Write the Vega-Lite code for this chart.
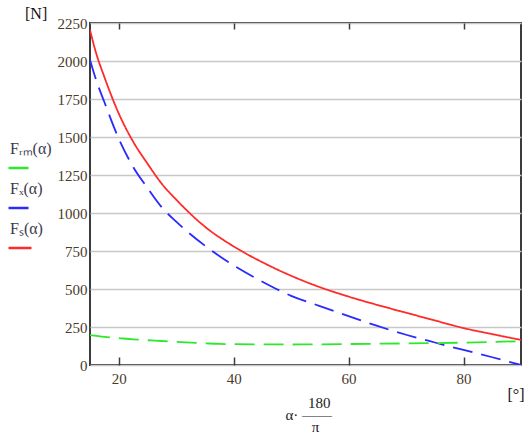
{
  "$schema": "https://vega.github.io/schema/vega-lite/v6.json",
  "width": 431,
  "height": 342,
  "autosize": "none",
  "padding": {"left": 90, "top": 23, "right": 3, "bottom": 71},
  "background": "white",
  "config": {
    "view": {"stroke": "#3c3c3c", "strokeWidth": 2},
    "font": "Liberation Serif",
    "style": {"guide-label": {"lineHeight": 38}}
  },
  "title": {
    "text": "[N]",
    "anchor": "start",
    "frame": "group",
    "dx": -65,
    "dy": 19,
    "offset": 0,
    "baseline": "alphabetic",
    "fontSize": 16,
    "fontWeight": "normal",
    "font": "Liberation Serif",
    "color": "#111"
  },
  "data": {
    "values": [
      {"a": 15, "s": "Fs", "F": 2205}, {"a": 16, "s": "Fs", "F": 2060}, {"a": 17.5, "s": "Fs", "F": 1895}, {"a": 20, "s": "Fs", "F": 1655},
      {"a": 22.5, "s": "Fs", "F": 1470}, {"a": 25, "s": "Fs", "F": 1325}, {"a": 27.5, "s": "Fs", "F": 1192}, {"a": 30, "s": "Fs", "F": 1088},
      {"a": 35, "s": "Fs", "F": 910}, {"a": 40, "s": "Fs", "F": 780}, {"a": 45, "s": "Fs", "F": 676}, {"a": 50, "s": "Fs", "F": 587},
      {"a": 55, "s": "Fs", "F": 512}, {"a": 60, "s": "Fs", "F": 450}, {"a": 65, "s": "Fs", "F": 395}, {"a": 70, "s": "Fs", "F": 344},
      {"a": 75, "s": "Fs", "F": 293}, {"a": 80, "s": "Fs", "F": 243}, {"a": 85, "s": "Fs", "F": 203}, {"a": 90, "s": "Fs", "F": 165},
      {"a": 15, "s": "Fx", "F": 2008}, {"a": 16, "s": "Fx", "F": 1883}, {"a": 17.5, "s": "Fx", "F": 1730}, {"a": 20, "s": "Fx", "F": 1490},
      {"a": 22.5, "s": "Fx", "F": 1304}, {"a": 25, "s": "Fx", "F": 1165}, {"a": 27.5, "s": "Fx", "F": 1037}, {"a": 30, "s": "Fx", "F": 943},
      {"a": 35, "s": "Fx", "F": 785}, {"a": 40, "s": "Fx", "F": 655}, {"a": 45, "s": "Fx", "F": 548}, {"a": 50, "s": "Fx", "F": 455},
      {"a": 55, "s": "Fx", "F": 388}, {"a": 60, "s": "Fx", "F": 322}, {"a": 65, "s": "Fx", "F": 257}, {"a": 70, "s": "Fx", "F": 199},
      {"a": 75, "s": "Fx", "F": 148}, {"a": 80, "s": "Fx", "F": 99}, {"a": 85, "s": "Fx", "F": 51}, {"a": 90, "s": "Fx", "F": 0},
      {"a": 15, "s": "Frm", "F": 197}, {"a": 17.5, "s": "Frm", "F": 185}, {"a": 20, "s": "Frm", "F": 177}, {"a": 22.5, "s": "Frm", "F": 169},
      {"a": 25, "s": "Frm", "F": 163}, {"a": 27.5, "s": "Frm", "F": 158}, {"a": 30, "s": "Frm", "F": 152}, {"a": 32.5, "s": "Frm", "F": 147},
      {"a": 35, "s": "Frm", "F": 143}, {"a": 37.5, "s": "Frm", "F": 139}, {"a": 40, "s": "Frm", "F": 137}, {"a": 45, "s": "Frm", "F": 136},
      {"a": 50, "s": "Frm", "F": 135}, {"a": 60, "s": "Frm", "F": 138}, {"a": 70, "s": "Frm", "F": 142}, {"a": 80, "s": "Frm", "F": 147},
      {"a": 90, "s": "Frm", "F": 157}
    ]
  },
  "resolve": {"axis": {"x": "independent", "y": "independent"}},
  "layer": [
    {
      "mark": {"type": "line", "clip": true, "interpolate": "monotone"},
      "encoding": {
        "x": {
          "field": "a", "type": "quantitative",
          "scale": {"domain": [15, 90], "nice": false, "zero": false},
          "axis": {
            "orient": "bottom",
            "values": [20, 40, 60, 80],
            "grid": false,
            "domain": false,
            "offset": -8,
            "tickSize": 8,
            "tickColor": "#3c3c3c",
            "tickWidth": 1.5,
            "labelPadding": 6,
            "labelFontSize": 15,
            "labelColor": "#4a3a2a",
            "labelFont": "Liberation Serif",
            "labelOverlap": false,
            "title": ["\u200b\u00a0\u00a0\u00a0\u00a0\u00a0\u00a0180", "α·\u00a0——", "\u200b\u00a0\u00a0\u00a0\u00a0\u00a0\u00a0\u00a0π"],
            "titleAlign": "left",
            "titleAnchor": "start",
            "titleX": 195,
            "titleY": 50,
            "titleBaseline": "alphabetic",
            "titleLineHeight": 12,
            "titleFontSize": 15,
            "titleFontWeight": "normal",
            "titleFont": "Liberation Serif",
            "titleColor": "#222"
          }
        },
        "y": {
          "field": "F", "type": "quantitative",
          "scale": {"domain": [0, 2250], "nice": false},
          "axis": {
            "orient": "left",
            "values": [0, 250, 500, 750, 1000, 1250, 1500, 1750, 2000, 2250],
            "format": "d",
            "grid": true,
            "gridColor": "#c8c8c8",
            "gridWidth": 1.5,
            "ticks": false,
            "domain": false,
            "labelOverlap": false,
            "labelPadding": 3,
            "labelFontSize": 15,
            "labelColor": "#4a3a2a",
            "labelFont": "Liberation Serif",
            "title": "[°]",
            "titleAngle": 0,
            "titleAlign": "left",
            "titleBaseline": "alphabetic",
            "titleX": 417,
            "titleY": 376,
            "titleFontSize": 16,
            "titleFontWeight": "normal",
            "titleFont": "Liberation Serif",
            "titleColor": "#111"
          }
        },
        "color": {
          "field": "s", "type": "nominal",
          "scale": {"domain": ["Frm", "Fx", "Fs"], "range": ["#2ee82e", "#2a2aff", "#ff2a2a"]},
          "legend": {
            "orient": "none",
            "legendX": -83,
            "legendY": 132,
            "title": null,
            "symbolType": "stroke",
            "symbolSize": 529,
            "symbolStrokeWidth": 2.5,
            "labelExpr": "datum.label == 'Frm' ? 'Fᵣₘ(α)' : datum.label == 'Fx' ? 'Fₓ(α)' : 'Fₛ(α)'",
            "labelFontSize": 16,
            "labelFont": "Liberation Serif",
            "labelColor": "#3a3a4a",
            "labelBaseline": "line-bottom",
            "labelOffset": -23,
            "rowPadding": 8
          }
        },
        "strokeDash": {
          "field": "s", "type": "nominal",
          "scale": {"domain": ["Frm", "Fx", "Fs"], "range": [[20, 9], [20, 9], [1, 0]]},
          "legend": null
        },
        "strokeWidth": {"value": 1.8}
      }
    },
    {
      "mark": {"type": "point", "opacity": 0},
      "encoding": {
        "x": {
          "field": "a", "type": "quantitative",
          "scale": {"domain": [15, 90], "nice": false, "zero": false},
          "axis": {
            "orient": "top",
            "values": [20, 40, 60, 80],
            "labels": false,
            "grid": false,
            "domain": false,
            "offset": -6,
            "tickSize": 6,
            "tickColor": "#3c3c3c",
            "tickWidth": 1.5,
            "title": null
          }
        },
        "y": {"field": "F", "type": "quantitative", "axis": null}
      }
    }
  ]
}
